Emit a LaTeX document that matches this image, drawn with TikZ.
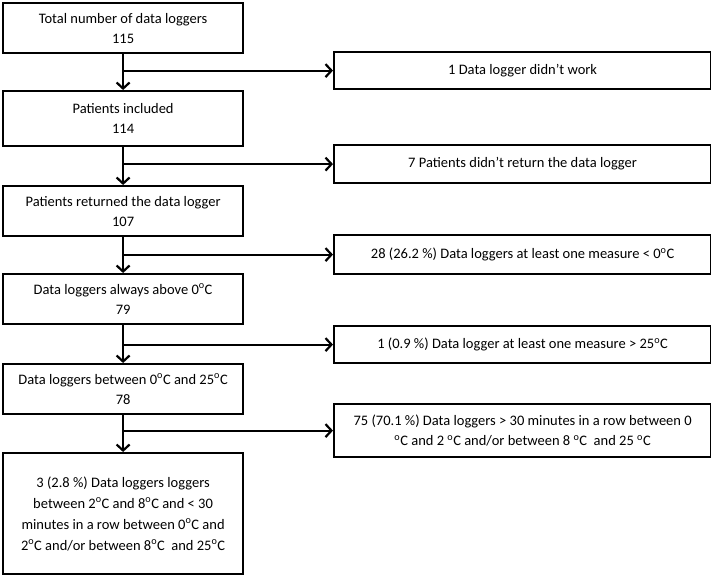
\documentclass[tikz,border=0pt]{standalone}
\usepackage{fontspec}
\setmainfont{Carlito}
\usetikzlibrary{arrows.meta}
\tikzset{
  box/.style={draw, line width=2.2pt, align=center, inner sep=0pt, anchor=north west, font=\fontsize{14.5}{20}\selectfont},
  leftbox/.style={box, minimum width=240pt},
  rightbox/.style={box, minimum width=377pt},
  flow/.style={line width=2.2pt, -{Straight Barb[length=6pt,width=13pt,line width=2.2pt]}}
}
\newcommand{\dg}{\textsuperscript{o}}
\begin{document}
\begin{tikzpicture}[x=1pt,y=-1pt]
\useasboundingbox (0,0) rectangle (711,574);
\node[leftbox, minimum height=50pt] (total) at (2,2) {Total number of data loggers\\115};
\node[leftbox, minimum height=55pt] (incl) at (2,90) {Patients included\\114};
\node[leftbox, minimum height=50pt] (ret) at (2,185) {Patients returned the data logger\\107};
\node[leftbox, minimum height=50pt] (above) at (2,273) {Data loggers always above 0\dg C\\79};
\node[leftbox, minimum height=50pt] (between) at (2,363) {Data loggers between 0\dg C and 25\dg C\\78};
\node[leftbox, minimum height=121pt, font=\fontsize{14.5}{21}\selectfont] (final) at (2,452) {3 (2.8 \%) Data loggers loggers\\between 2\dg C and 8\dg C and < 30\\minutes in a row between 0\dg C and\\2\dg C and/or between 8\dg C\ \ and 25\dg C};

\node[rightbox, minimum height=37pt] (nowork) at (333,51) {1 Data logger didn’t work};
\node[rightbox, minimum height=38pt] (noret) at (333,144) {7 Patients didn’t return the data logger};
\node[rightbox, minimum height=39pt] (below) at (333,234) {28 (26.2 \%) Data loggers at least one measure < 0\dg C};
\node[rightbox, minimum height=37pt] (over) at (333,325) {1 (0.9 \%) Data logger at least one measure > 25\dg C};
\node[rightbox, minimum height=53pt] (outside) at (333,403) {75 (70.1 \%) Data loggers > 30 minutes in a row between 0\\\dg C and 2 \dg C and/or between 8 \dg C\ \ and 25 \dg C};

\coordinate (s1) at (total.south |- nowork.west);
\coordinate (s2) at (incl.south |- noret.west);
\coordinate (s3) at (ret.south |- below.west);
\coordinate (s4) at (above.south |- over.west);
\coordinate (s5) at (between.south |- outside.west);

\draw[flow] (total) -- (incl);
\draw[flow] (incl) -- (ret);
\draw[flow] (ret) -- (above);
\draw[flow] (above) -- (between);
\draw[flow] (between) -- (final);

\draw[flow] (s1) -- (nowork.west);
\draw[flow] (s2) -- (noret.west);
\draw[flow] (s3) -- (below.west);
\draw[flow] (s4) -- (over.west);
\draw[flow] (s5) -- (outside.west);
\end{tikzpicture}
\end{document}
